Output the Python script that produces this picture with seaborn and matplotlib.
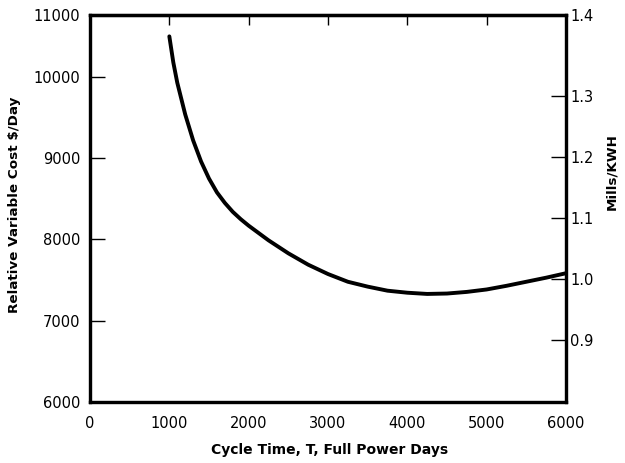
import matplotlib
matplotlib.use("Agg")
import matplotlib.pyplot as plt
import seaborn as sns
import pandas as pd

# ---- data ----
cycle_time = [1000, 1050, 1100, 1200, 1300, 1400, 1500, 1600, 1700, 1800,
              1900, 2000, 2250, 2500, 2750, 3000, 3250, 3500, 3750, 4000,
              4250, 4500, 4750, 5000, 5250, 5500, 5750, 6000]
cost_per_day = [10500, 10180, 9930, 9540, 9220, 8960, 8750, 8580, 8450, 8340,
                8250, 8170, 7990, 7830, 7690, 7575, 7480, 7420, 7370, 7345,
                7330, 7335, 7355, 7385, 7430, 7480, 7530, 7585]

x_ticks = [0, 1000, 2000, 3000, 4000, 5000, 6000]
x_tick_labels = ["0", "1000", "2000", "3000", "4000", "5000", "6000"]
left_ticks = [6000, 7000, 8000, 9000, 10000]
left_tick_labels = ["6000", "7000", "8000", "9000", "10000", "11000"]
right_ticks = [0.9, 1.0, 1.1, 1.2, 1.3]
right_tick_labels = ["0.9", "1.0", "1.1", "1.2", "1.3", "1.4"]
cost_per_mill = 7510.0  # $/day corresponding to 1 mill/KWH

x_label = "Cycle Time, T, Full Power Days"
left_label = "Relative Variable Cost $/Day"
right_label = "Mills/KWH"

df = pd.DataFrame({"T": cycle_time, "cost": cost_per_day})

sns.set_theme(style="white")
plt.rcParams["font.family"] = ["DejaVu Sans"]
plt.rcParams["text.color"] = "black"

fig = plt.figure(figsize=(6.25, 4.63), dpi=100)
ax = fig.add_axes([90 / 625, 61 / 463, 476 / 625, 387 / 463])

sns.lineplot(data=df, x="T", y="cost", ax=ax, color="black", linewidth=2.8)

y_top = 10763
ax.set_xlim(0, 6000)
ax.set_ylim(6000, y_top)

ax.set_xticks(x_ticks)
ax.set_xticklabels(x_tick_labels)
ax.set_yticks(left_ticks + [y_top])
ax.set_yticklabels(left_tick_labels)

for s in ax.spines.values():
    s.set_linewidth(2.3)
    s.set_color("black")

ax.tick_params(axis="y", direction="in", length=11, width=1.0, pad=7,
               labelsize=10.5, colors="black")
ax.tick_params(axis="x", direction="in", length=9, width=1.0, pad=10,
               labelsize=10.5, colors="black")

top = ax.secondary_xaxis("top")
top.set_xticks([1000, 2000, 3000, 4000, 5000])
top.tick_params(direction="in", length=7, width=1.0, labeltop=False, colors="black")
top.spines["top"].set_linewidth(2.3)

ax2 = ax.twinx()
ax2.set_ylim(6000 / cost_per_mill, y_top / cost_per_mill)
ax2.set_yticks(right_ticks + [y_top / cost_per_mill])
ax2.set_yticklabels(right_tick_labels)
ax2.tick_params(axis="y", direction="in", length=11, width=1.0, pad=3,
                labelsize=10.5, colors="black")
for s in ax2.spines.values():
    s.set_linewidth(2.3)
    s.set_color("black")

ax.set_xlabel("")
ax.set_ylabel("")
fig.text(330 / 625, 1 - 450 / 463, x_label, ha="center", va="center",
         fontsize=10, fontweight="bold", color="black")
fig.text(15 / 625, 1 - 205 / 463, left_label, ha="center", va="center",
         rotation=90, fontsize=9.7, fontweight="bold", color="black")
fig.text(612 / 625, 1 - 172 / 463, right_label, ha="center", va="center",
         rotation=90, fontsize=9.7, fontweight="bold", color="black")

fig.savefig("out.png", dpi=100)
